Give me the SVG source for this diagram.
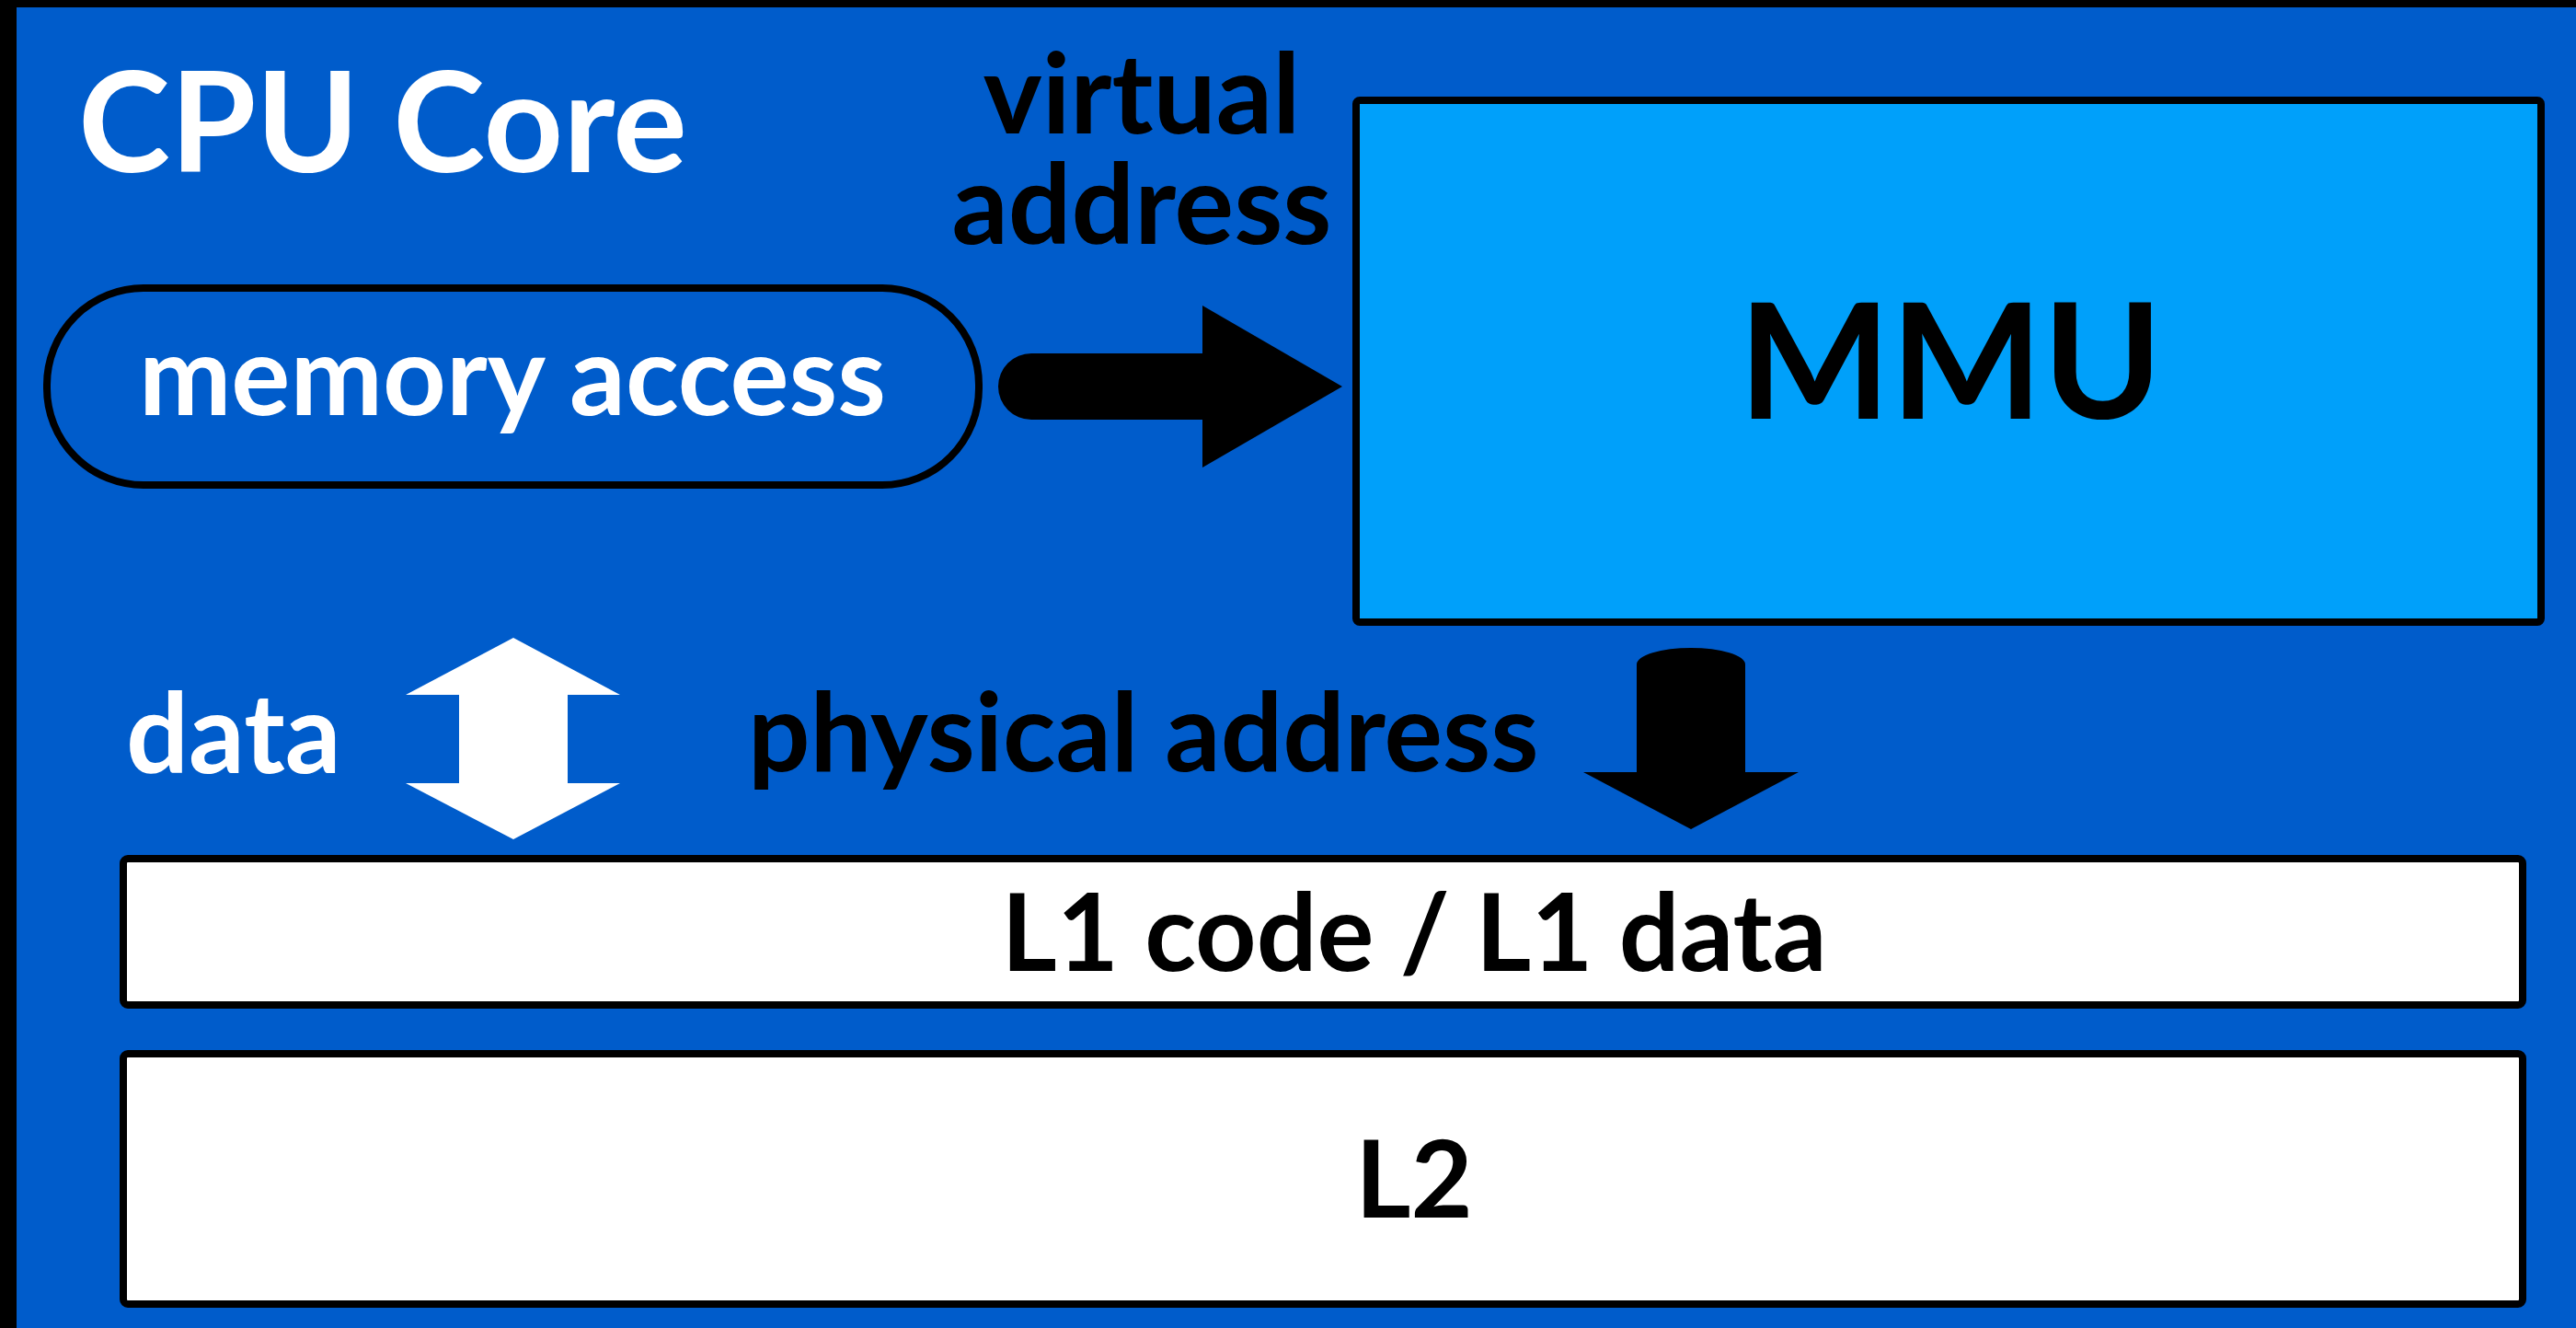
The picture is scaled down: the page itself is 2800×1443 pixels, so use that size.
<svg xmlns="http://www.w3.org/2000/svg" width="2800" height="1443" viewBox="0 0 2800 1443">
  <style>
    .t { font-family: Lato, "Noto Sans", "Liberation Sans", sans-serif; font-weight: 700; }
    .w { fill: #ffffff; }
    .k { fill: #000000; }
    .box { stroke: #000000; stroke-width: 8; }
  </style>
  <rect x="0" y="0" width="2800" height="1443" fill="#000000"/>
  <rect x="18" y="8" width="2782" height="1435" fill="#005ccb"/>

  <g id="title">
    <text class="t w" x="85" y="187" font-size="151">CPU Core</text>
  </g>

  <g id="memory-access">
    <rect class="box" x="51" y="313" width="1013" height="214" rx="105" ry="105" fill="#005ccb" stroke-width="10"/>
    <text class="t w" x="557" y="451" font-size="120" text-anchor="middle">memory access</text>
  </g>

  <g id="mmu">
    <rect class="box" x="1474" y="109" width="1288" height="567" rx="4" fill="#00a0fa"/>
    <text class="t k" x="2120" y="455" font-size="175" text-anchor="middle">MMU</text>
  </g>

  <g id="l1">
    <rect class="box" x="134" y="933" width="2608" height="159" rx="5" fill="#ffffff"/>
    <text class="t k" x="1537" y="1055" font-size="116" text-anchor="middle">L1 code / L1 data</text>
  </g>

  <g id="l2">
    <rect class="box" x="134" y="1145" width="2608" height="272" rx="5" fill="#ffffff"/>
    <text class="t k" x="1537" y="1323" font-size="116" text-anchor="middle">L2</text>
  </g>

  <g id="connectors">
    <path id="virtual-arrow" d="M1121,384 L1307,384 L1307,332 L1459,420 L1307,508 L1307,456 L1121,456 A36,36 0 0 1 1121,384 Z" fill="#000000"/>
    <text class="t k" font-size="121" text-anchor="middle"><tspan x="1241" y="145">virtual</tspan><tspan x="1241" y="265">address</tspan></text>

    <path id="physical-arrow" d="M1779,722 A59,18 0 0 1 1897,722 L1897,839 L1955,839 L1838,901 L1721,839 L1779,839 Z" fill="#000000"/>
    <text class="t k" x="813" y="838" font-size="119">physical address</text>

    <path id="data-arrow" d="M558,693 L674,755 L617,755 L617,851 L674,851 L558,912 L441,851 L499,851 L499,755 L441,755 Z" fill="#ffffff"/>
    <text class="t w" x="137" y="840" font-size="120">data</text>
  </g>
</svg>
